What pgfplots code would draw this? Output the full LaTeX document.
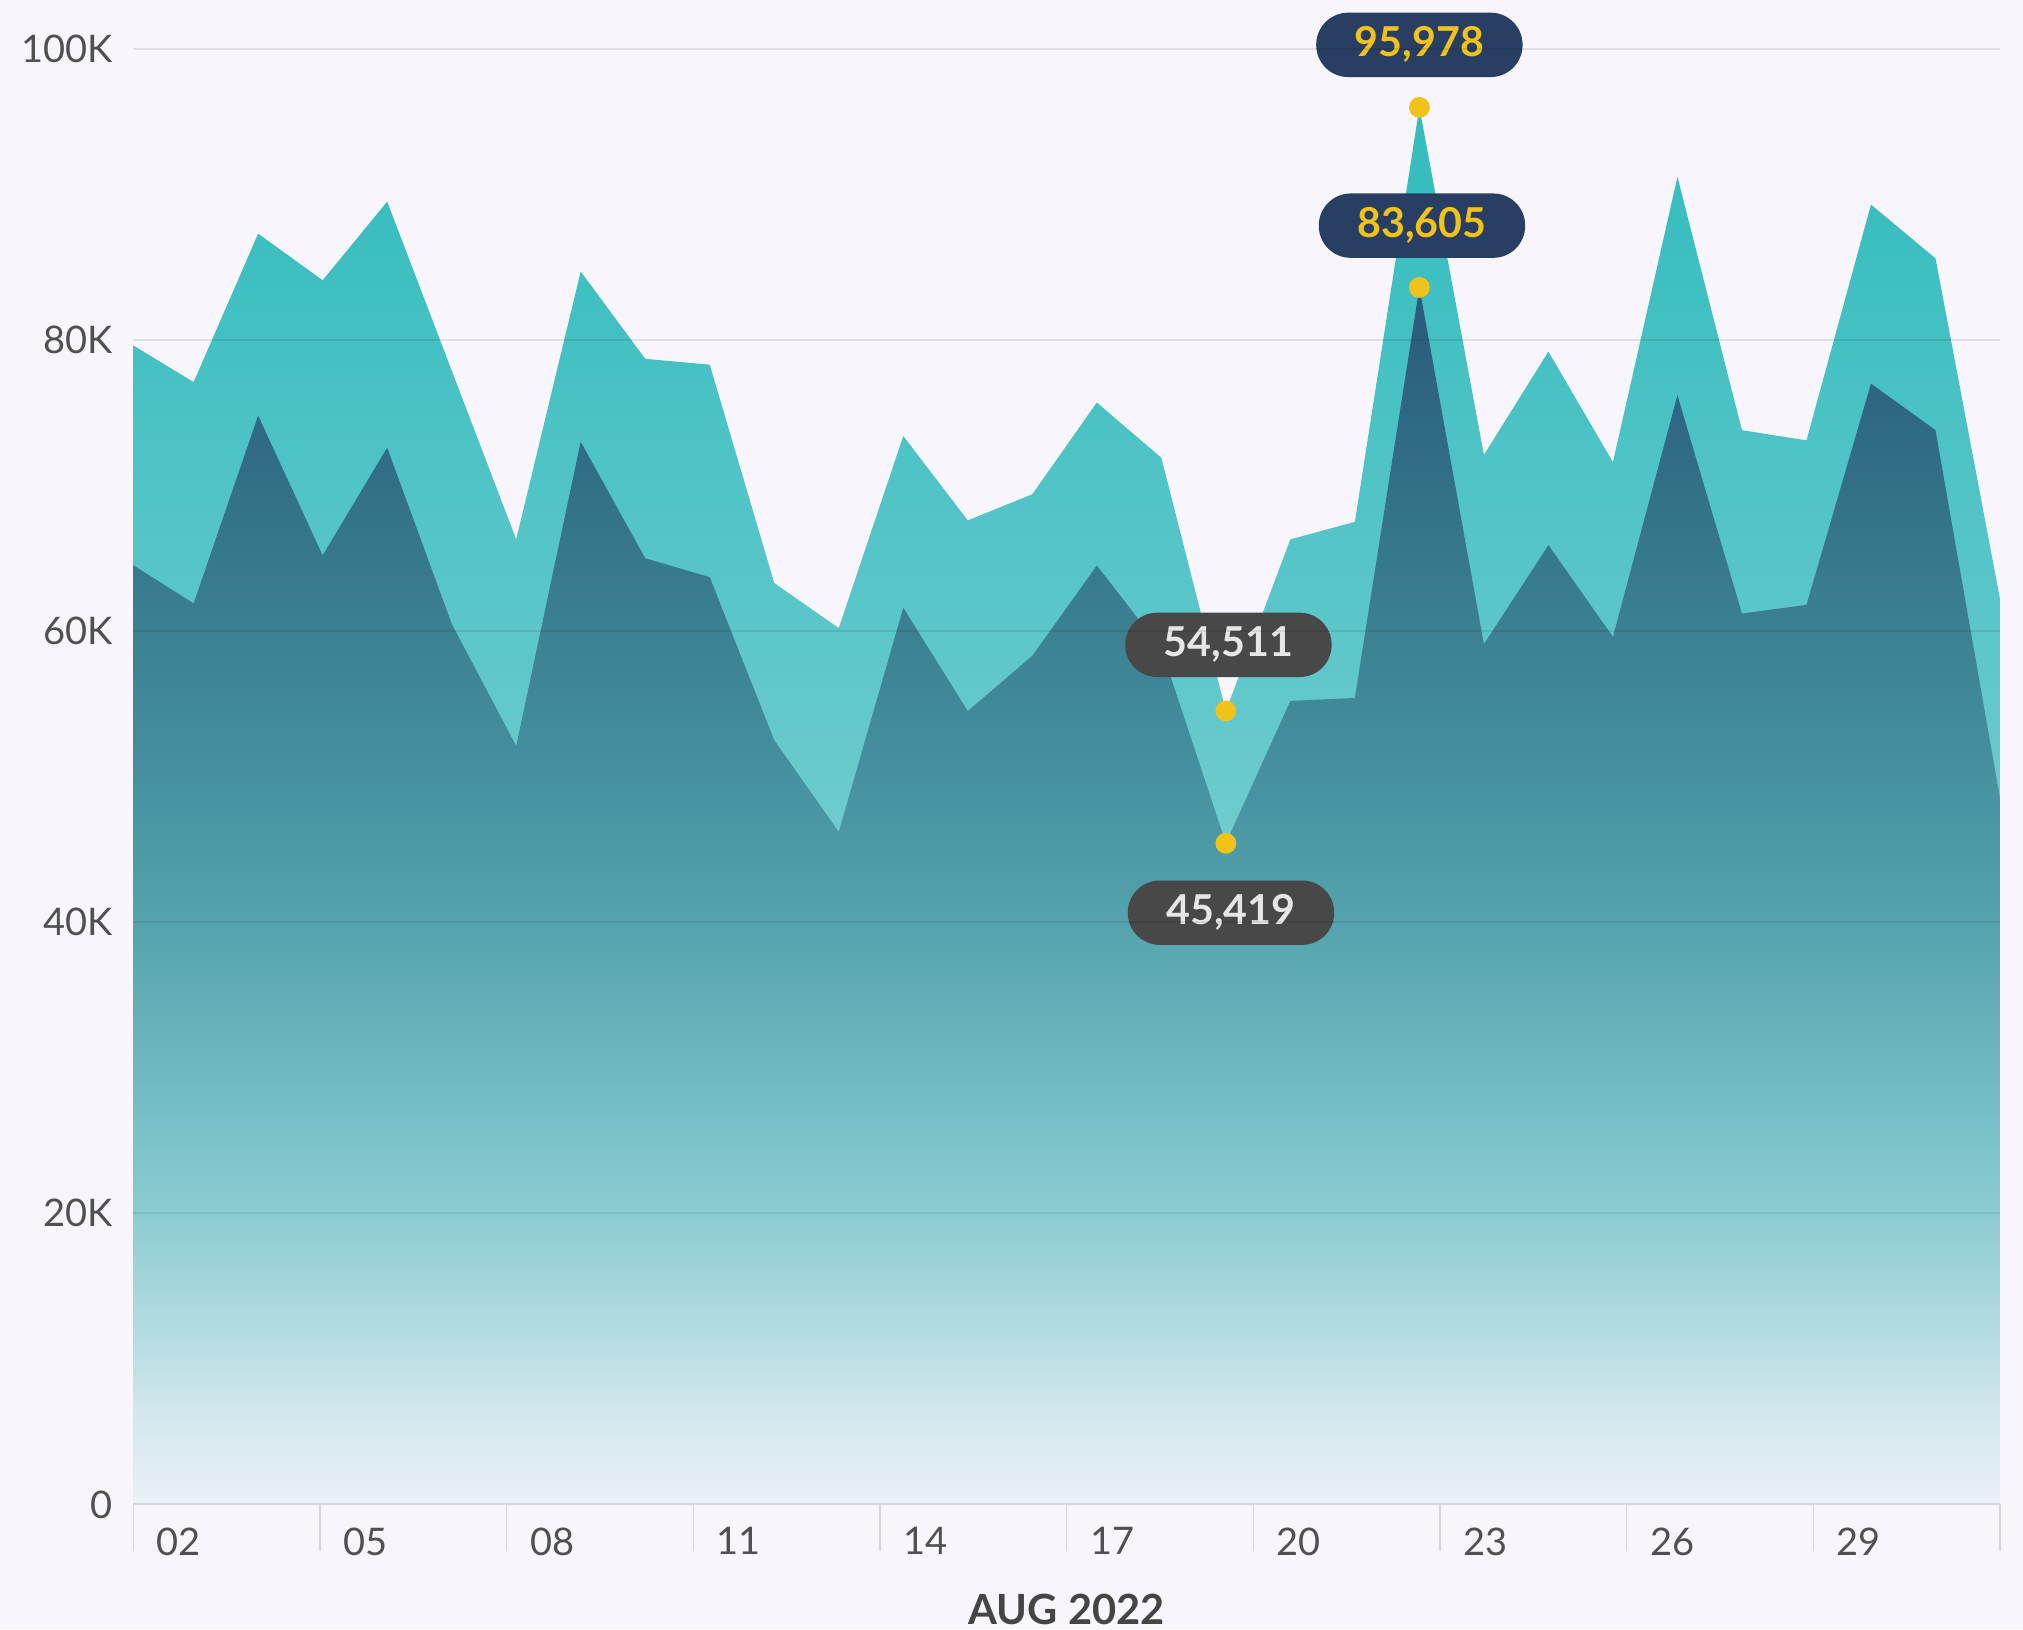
\documentclass[border=0pt]{standalone}
\usepackage{pgfplots}
\pgfplotsset{compat=1.18}
\usepackage{fontspec}
\setmainfont{Lato}

\definecolor{bg}{HTML}{F8F6FC}
\definecolor{ticktxt}{HTML}{505050}
\definecolor{titletxt}{HTML}{454545}
\definecolor{tickgray}{HTML}{D6D6DC}
\definecolor{navy}{HTML}{283F63}
\definecolor{gold}{HTML}{F0C21A}
\definecolor{pillgray}{HTML}{484848}
\definecolor{pilltxt}{HTML}{E6E6E6}

% dark series gradient (0 .. 83.6K mapped to 25bp .. 75bp)
\definecolor{dk0}{HTML}{EAF0F6}
\definecolor{dk1}{HTML}{D3E8EE}
\definecolor{dk2}{HTML}{B3DBE1}
\definecolor{dk3}{HTML}{8CCBD2}
\definecolor{dk4}{HTML}{6DB9C1}
\definecolor{dk5}{HTML}{55A3AE}
\definecolor{dk6}{HTML}{4591A0}
\definecolor{dk7}{HTML}{3B8192}
\definecolor{dk8}{HTML}{327086}
\definecolor{dk9}{HTML}{2C5F7E}
\definecolor{dk10}{HTML}{2A5A7A}
\pgfdeclareverticalshading{darkshade}{100bp}{%
  color(0bp)=(dk0); color(25bp)=(dk0); color(28.6bp)=(dk1); color(32.2bp)=(dk2);
  color(37bp)=(dk3); color(42.9bp)=(dk4); color(48.9bp)=(dk5); color(54.9bp)=(dk6);
  color(60.9bp)=(dk7); color(66.9bp)=(dk8); color(72.8bp)=(dk9); color(75bp)=(dk10);
  color(100bp)=(dk10)}

% light series gradient (0 .. 96K)
\definecolor{lt0}{HTML}{E2F2F4}
\definecolor{lt1}{HTML}{70CCCF}
\definecolor{lt2}{HTML}{62C8CB}
\definecolor{lt3}{HTML}{56C5C8}
\definecolor{lt4}{HTML}{4AC2C4}
\definecolor{lt5}{HTML}{3EBFC1}
\definecolor{lt6}{HTML}{33BCBD}
\pgfdeclareverticalshading{lightshade}{100bp}{%
  color(0bp)=(lt0); color(25bp)=(lt0); color(48.4bp)=(lt1); color(53.7bp)=(lt2);
  color(58.9bp)=(lt3); color(64.1bp)=(lt4); color(69.3bp)=(lt5); color(75bp)=(lt6);
  color(100bp)=(lt6)}

\pgfplotstableread{
day value
1 79800
2 77100
3 87300
4 84100
5 89500
6 77900
7 66300
8 84700
9 78700
10 78300
11 63300
12 60200
13 73400
14 67600
15 69400
16 75700
17 71900
18 54511
19 66300
20 67500
21 95978
22 72100
23 79200
24 71600
25 91200
26 73800
27 73100
28 89300
29 85600
30 62200
}\lighttable

\pgfplotstableread{
day value
1 64700
2 61900
3 74800
4 65200
5 72600
6 60500
7 52100
8 73000
9 65000
10 63700
11 52500
12 46200
13 61600
14 54500
15 58300
16 64500
17 58800
18 45419
19 55200
20 55400
21 83605
22 59100
23 65900
24 59600
25 76200
26 61200
27 61800
28 77000
29 73800
30 48500
}\darktable

\begin{document}
\begin{tikzpicture}
\path[use as bounding box, fill=bg] (-33.33pt,-31.15pt) rectangle (472.42pt,376.1pt);
\begin{axis}[
    at={(0,0)}, anchor=south west,
    scale only axis,
    width=466.67pt, height=363.9pt,
    xmin=1.065, xmax=30,
    ymin=0, ymax=100000,
    clip=true, clip mode=individual,
    axis lines=left,
    axis line style={-},
    x axis line style={draw=tickgray, line width=0.5pt},
    y axis line style={draw=none},
    tick align=outside,
    major tick length=11.75pt,
    xtick={1.065,3.9585,6.852,9.7455,12.639,15.5325,18.426,21.3195,24.213,27.1065,30},
    xticklabels={02,05,08,11,14,17,20,23,26,29,{}},
    xtick style={draw=tickgray, line width=0.4pt},
    xticklabel style={anchor=north west, inner sep=0pt, xshift=5.65pt, yshift=6.15pt,
        font=\fontsize{9.5pt}{10pt}\selectfont, text=ticktxt},
    ytick={0,20000,40000,60000,80000,100000},
    yticklabels={0,20K,40K,60K,80K,100K},
    ytick style={draw=none},
    yticklabel style={anchor=east, inner sep=0pt, xshift=6.8pt,
        font=\fontsize{9.5pt}{10pt}\selectfont, text=ticktxt},
    scaled y ticks=false,
    /pgf/number format/assume math mode=true,
    ymajorgrids,
    major grid style={draw=black, opacity=0.09, line width=0.5pt},
    axis on top,
]
\addplot[draw=none, shading=lightshade] table[x=day, y=value] {\lighttable} \closedcycle;
\addplot[draw=none, shading=darkshade] table[x=day, y=value] {\darktable} \closedcycle;

\addplot[only marks, mark=*, mark size=2.4pt, color=gold] coordinates {
    (21,95978) (21,83605) (18,54511) (18,45419)};

\begin{scope}[every node/.style={rounded corners=8pt, minimum width=51.6pt,
        minimum height=16.1pt, inner sep=0pt,
        font=\fontsize{10.3pt}{11pt}\selectfont\bfseries}]
\node[fill=navy, text=gold] at (axis cs:21,100270) {95,978};
\node[fill=navy, text=gold] at (axis cs:21.04,87850) {83,605};
\node[fill=pillgray, text=pilltxt] at (axis cs:18.04,59050) {54,511};
\node[fill=pillgray, text=pilltxt] at (axis cs:18.08,40650) {45,419};
\end{scope}

\node[anchor=north, inner sep=0pt, yshift=-22.15pt, text=titletxt,
    font=\fontsize{10.4pt}{11pt}\selectfont\bfseries] at (rel axis cs:0.5,0) {AUG 2022};
\end{axis}
\end{tikzpicture}
\end{document}
